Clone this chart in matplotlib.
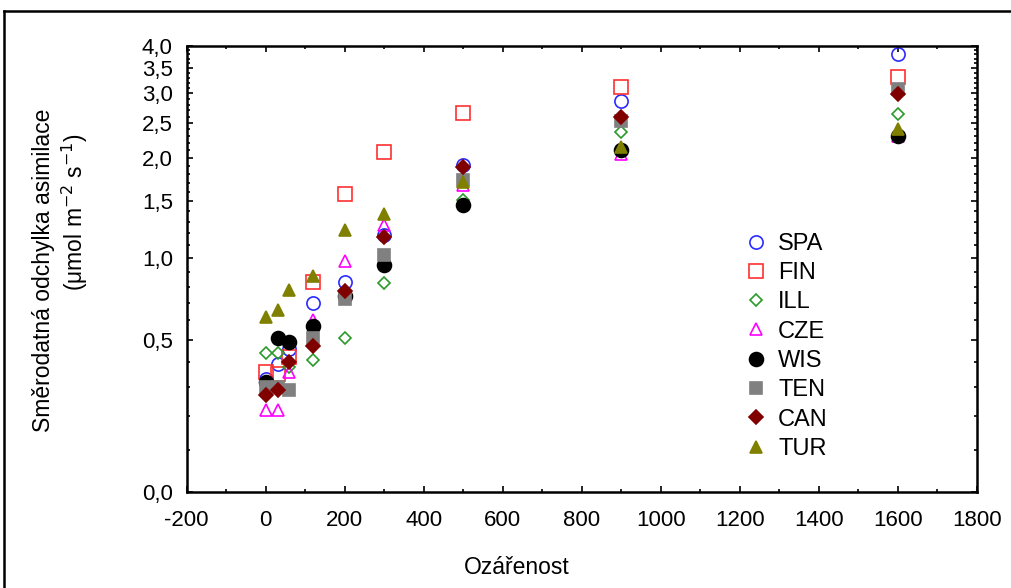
import numpy as np
import matplotlib
matplotlib.use("Agg")
import matplotlib.pyplot as plt
from matplotlib.lines import Line2D
from matplotlib.ticker import FixedLocator, FuncFormatter

plt.rcParams['font.family'] = ['Liberation Sans', 'DejaVu Sans']
plt.rcParams['axes.unicode_minus'] = False

irr = [0, 30, 60, 120, 200, 300, 500, 900, 1600]

SPA = [0.33, 0.39, 0.46, 0.70, 0.83, 1.18, 1.91, 2.87, 3.81]
FIN = [0.36, 0.35, 0.42, 0.83, 1.58, 2.08, 2.66, 3.11, 3.31]
ILL = [0.44, 0.44, 0.38, 0.41, 0.51, 0.82, 1.51, 2.36, 2.64]
CZE = [0.22, 0.22, 0.36, 0.60, 0.98, 1.27, 1.67, 2.05, 2.30]
WIS = [0.32, 0.51, 0.49, 0.57, 0.74, 0.95, 1.46, 2.11, 2.30]
TEN = [0.30, 0.30, 0.29, 0.51, 0.72, 1.02, 1.73, 2.53, 3.09]
CAN = [0.27, 0.29, 0.40, 0.47, 0.77, 1.17, 1.89, 2.60, 2.98]
TUR = [0.62, 0.66, 0.78, 0.87, 1.23, 1.37, 1.71, 2.15, 2.40]

names = ['SPA', 'FIN', 'ILL', 'CZE', 'WIS', 'TEN', 'CAN', 'TUR']
series = [SPA, FIN, ILL, CZE, WIS, TEN, CAN, TUR]
markers = ['o', 's', 'D', '^', 'o', 's', 'D', '^']
colors = ['#2b2bff', '#ff3030', '#2a9a2a', '#ff00ff', '#000000', '#808080', '#800000', '#808000']
filled = [False, False, False, False, True, True, True, True]
sizes = [9.5, 9.5, 6.5, 8.5, 10, 9, 7.5, 9]

yticks = [0.0, 0.5, 1.0, 1.5, 2.0, 2.5, 3.0, 3.5, 4.0]
xticks = list(range(-200, 1801, 200))

c = 0.39  # offset of the log scale


def fwd(v):
    return np.log(np.maximum(v, -c + 1e-6) + c)


def inv(t):
    return np.exp(t) - c


fig = plt.figure(figsize=(10.12, 5.88), dpi=100)
ax = fig.add_axes([186.7 / 1012, 1 - 492.3 / 588, 790 / 1012, 446.6 / 588])

for name, vals, m, col, f, ms in zip(names, series, markers, colors, filled, sizes):
    ax.plot(irr, vals, linestyle='none', marker=m, markersize=ms,
            markerfacecolor=col if f else 'none', markeredgecolor=col,
            markeredgewidth=1.2, label=name)

ax.set_yscale('function', functions=(fwd, inv))
ax.set_ylim(0, 4)
ax.set_xlim(-200, 1800)

ax.yaxis.set_major_locator(FixedLocator(yticks))
ax.yaxis.set_minor_locator(FixedLocator(np.round(np.arange(0.1, 4.0, 0.1), 2)))
ax.yaxis.set_major_formatter(FuncFormatter(lambda v, p: f"{v:.1f}".replace('.', ',')))
ax.xaxis.set_major_locator(FixedLocator(xticks))
ax.xaxis.set_minor_locator(FixedLocator(range(-100, 1800, 200)))

ax.tick_params(which='both', direction='in', top=True, right=True, width=1.2,
               labelsize=16, colors='black')
ax.tick_params(which='major', length=4)
ax.tick_params(which='minor', length=2.5)
ax.tick_params(axis='y', pad=10)
ax.tick_params(axis='x', pad=12.5)
for s in ax.spines.values():
    s.set_linewidth(1.8)

ax.legend(loc='upper left', bbox_to_anchor=(732 / 1012, 1 - 221 / 588),
          bbox_transform=fig.transFigure, frameon=False, fontsize=17,
          handletextpad=0.45, labelspacing=0.31, borderpad=0, handlelength=1.0)

fig.text(517 / 1012, 1 - 567 / 588, 'Ozářenost', ha='center', va='center', fontsize=16.5)
fig.text(44 / 1012, 1 - 270 / 588, 'Směrodatná odchylka asimilace', rotation=90,
         ha='center', va='center', fontsize=16.5)
fig.text(75 / 1012, 1 - 212 / 588, '(μmol m$^{-2}$ s$^{-1}$)', rotation=90,
         ha='center', va='center', fontsize=16.5)

# outer frame around the figure
fig.add_artist(Line2D([4 / 1012, 4 / 1012], [0, 1 - 11 / 588], color='black', lw=1.8,
                      transform=fig.transFigure))
fig.add_artist(Line2D([4 / 1012, 1], [1 - 11 / 588, 1 - 11 / 588], color='black', lw=1.8,
                      transform=fig.transFigure))

fig.savefig('out.png', dpi=100)
